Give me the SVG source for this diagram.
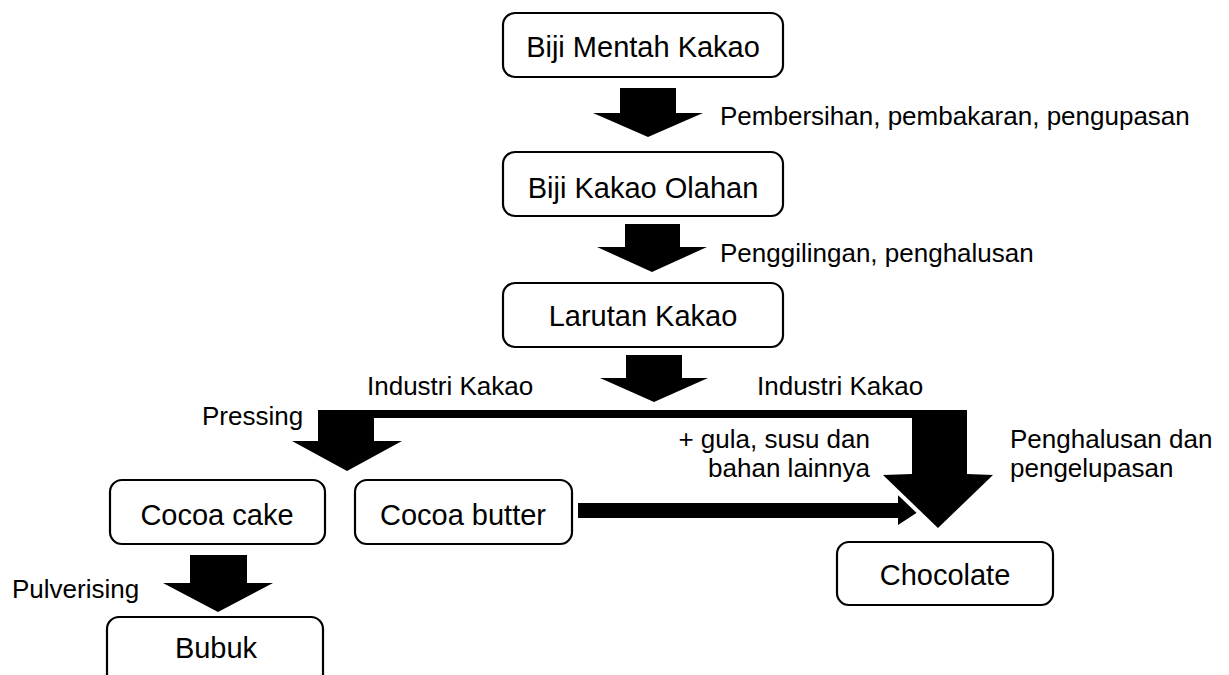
<svg xmlns="http://www.w3.org/2000/svg" width="1229" height="675" viewBox="0 0 1229 675">
<style>
.box{fill:#fff;stroke:#000;stroke-width:2.2}
.nt{font-family:"Liberation Sans",Arial,sans-serif;font-size:29px;fill:#000;text-anchor:middle}
.lb{font-family:"Liberation Sans",Arial,sans-serif;font-size:26px;fill:#000}
.ar{fill:#000}
</style>
<rect width="1229" height="675" fill="#fff"/>
<g id="connectors">
<polygon class="ar" points="620,88 676,88 676,113 703,113 648,137 593,113 620,113"/>
<polygon class="ar" points="625,224 680,224 680,247 707,247 652,272 597,247 625,247"/>
<polygon class="ar" points="626,355 682,355 682,378 708,378 654,402 600,378 626,378"/>
<path class="ar" d="M318,410 H967 V475 H912 V418 H374 V441 H402 L347,471 L292,441 H318 Z"/>
<path class="ar" d="M578,503 H898 V495 L921,510 L898,525 V518 H578 Z"/>
<line x1="883" y1="475" x2="938" y2="528" stroke="#fff" stroke-width="8"/>
<polygon class="ar" points="912,474 967,474 993,475 938,528 883,475"/>
<polygon class="ar" points="190,555 247,555 247,583 273,583 218,612 163,583 190,583"/>
<text class="lb" x="720" y="125">Pembersihan, pembakaran, pengupasan</text>
<text class="lb" x="720" y="262">Penggilingan, penghalusan</text>
<text class="lb" x="367" y="395">Industri Kakao</text>
<text class="lb" x="757" y="395">Industri Kakao</text>
<text class="lb" x="202" y="425">Pressing</text>
<text class="lb" x="870" y="448" text-anchor="end">+ gula, susu dan</text>
<text class="lb" x="870" y="477" text-anchor="end">bahan lainnya</text>
<text class="lb" x="1010" y="448">Penghalusan dan</text>
<text class="lb" x="1010" y="477">pengelupasan</text>
<text class="lb" x="12" y="598">Pulverising</text>
</g>
<g id="n1"><rect class="box" x="503" y="13" width="280" height="64" rx="12"/><text class="nt" x="643" y="57">Biji Mentah Kakao</text></g>
<g id="n2"><rect class="box" x="503" y="152" width="280" height="64" rx="12"/><text class="nt" x="643" y="198">Biji Kakao Olahan</text></g>
<g id="n3"><rect class="box" x="503" y="283" width="280" height="64" rx="12"/><text class="nt" x="643" y="326">Larutan Kakao</text></g>
<g id="n4"><rect class="box" x="110" y="480" width="215" height="64" rx="12"/><text class="nt" x="217" y="525">Cocoa cake</text></g>
<g id="n5"><rect class="box" x="355" y="480" width="217" height="64" rx="12"/><text class="nt" x="463" y="525">Cocoa butter</text></g>
<g id="n6"><rect class="box" x="837" y="542" width="216" height="63" rx="12"/><text class="nt" x="945" y="585">Chocolate</text></g>
<g id="n7"><rect class="box" x="107" y="617" width="216" height="80" rx="12"/><text class="nt" x="216" y="658">Bubuk</text></g>
</svg>
